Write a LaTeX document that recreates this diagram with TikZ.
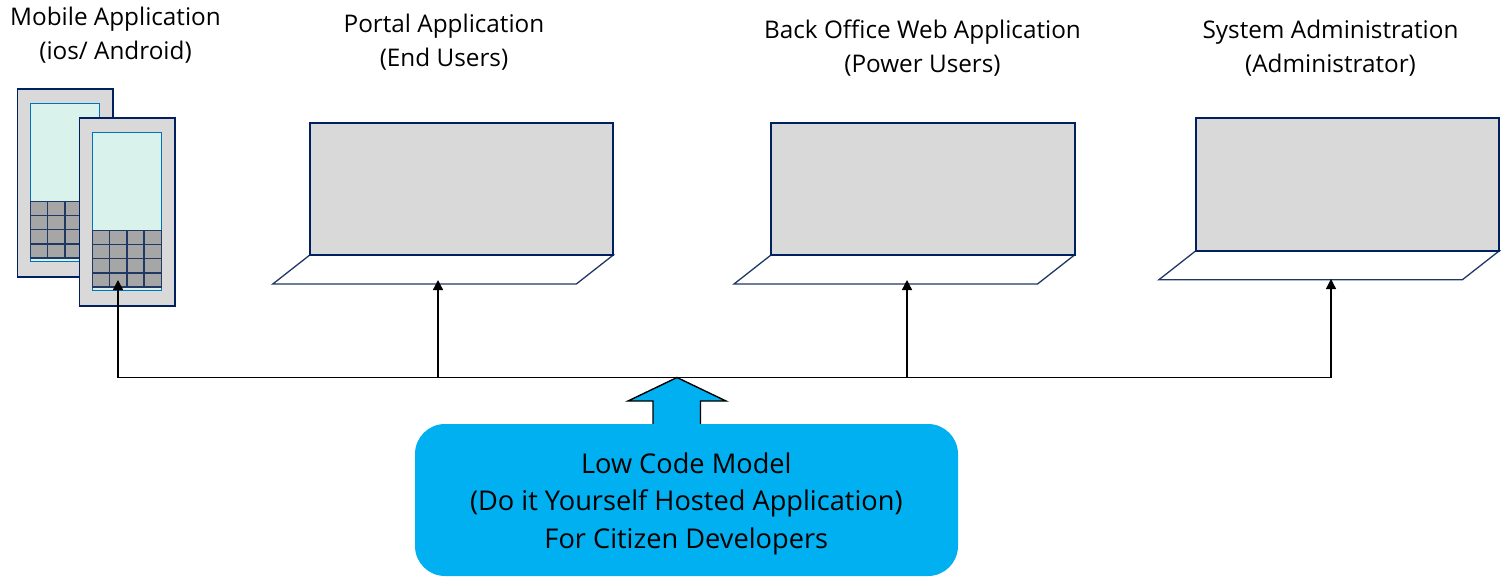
\documentclass[tikz,border=0pt]{standalone}
\usepackage{fontspec}
\setmainfont{Open Sans}
\usetikzlibrary{arrows.meta,calc}
\definecolor{navy}{HTML}{1F3864}
\definecolor{dk}{HTML}{002060}
\definecolor{gr}{HTML}{D9D9D9}
\definecolor{key}{HTML}{A6A6A6}
\definecolor{mint}{HTML}{DAF2EC}
\definecolor{scr}{HTML}{0070C0}
\definecolor{sky}{HTML}{00B0F0}
\tikzset{
  x=1pt,y=-1pt,
  lbl/.style={font=\fontsize{24.3}{34}\selectfont,align=center,text=black,inner sep=0pt},
  panel/.style={draw=dk,line width=2pt,fill=gr},
  base/.style={draw=navy,line width=1.3pt,fill=white,line join=miter},
  phonebody/.style={draw=dk,line width=1.8pt,fill=gr},
  phonescreen/.style={draw=scr,line width=1.7pt,fill=mint},
  keycell/.style={draw=navy,line width=1.4pt,fill=key},
  conn/.style={draw=black,line width=1.3pt},
  connarrow/.style={conn,-{Triangle[length=10pt,width=10pt]}},
  box/.style={fill=sky,rounded corners=30pt,draw=none},
}
\newcommand{\phone}[3]{% name, x, y of outer top-left
  \path[phonebody] (#2,#3) rectangle ++(95.5,188);
  \path[phonescreen] ($(#2,#3)+(13,14.5)$) rectangle ++(69,158);
  \foreach \r in {0,1,2,3}{\foreach \c in {0,1,2,3}{
    \path[keycell] ($(#2,#3)+(13+\c*17.2,112.5+\r*14.1)$) rectangle ++(17.2,14.1);
  }}
}
\newcommand{\laptop}[3]{% name, x, y of screen top-left
  \path[base] ($(#2,#3)+(0,132.5)$) -- ++(303.5,0) -- ++(-37,29) -- ++(-303.5,0) -- cycle;
  \path[panel] (#2,#3) rectangle ++(303.5,132.5);
}
\begin{document}
\begin{tikzpicture}
\useasboundingbox (0,0) rectangle (1505,576);
\phone{p1}{17.5}{89}
\phone{p2}{79.5}{118}
\laptop{l1}{309.8}{122.5}
\laptop{l2}{771}{122.5}
\laptop{l3}{1195.8}{118.3}
\node[lbl] (tm) at (115.5,35.3) {Mobile Application\\(ios/ Android)};
\node[lbl] (tp) at (444,42) {Portal Application\\(End Users)};
\node[lbl] (tb) at (922.5,48) {Back Office Web Application\\(Power Users)};
\node[lbl] (ts) at (1330.5,48) {System Administration\\(Administrator)};
\coordinate (a1) at (118,280);
\coordinate (a2) at (438,280);
\coordinate (a3) at (907,280);
\coordinate (a4) at (1331,279);
\coordinate (b1) at (118,377.5);
\coordinate (b2) at (438,377.5);
\coordinate (b3) at (907,377.5);
\coordinate (b4) at (1331,377.5);
\draw[conn] (b1) -- (b4);
\draw[connarrow] (b1) -- (a1);
\draw[connarrow] (b2) -- (a2);
\draw[connarrow] (b3) -- (a3);
\draw[connarrow] (b4) -- (a4);
\path[draw=black,line width=1.4pt,fill=sky,line join=miter] (677,377.5) -- (726,401) -- (700.5,401) -- (700.5,425) -- (653,425) -- (653,401) -- (628,401) -- cycle;
\path[box] (415,424) rectangle (958,576);
\node[lbl,font=\fontsize{27.2}{37.5}\selectfont] (mdl) at (686.3,503.5) {Low Code Model\\(Do it Yourself Hosted Application)\\For Citizen Developers};
\end{tikzpicture}
\end{document}
